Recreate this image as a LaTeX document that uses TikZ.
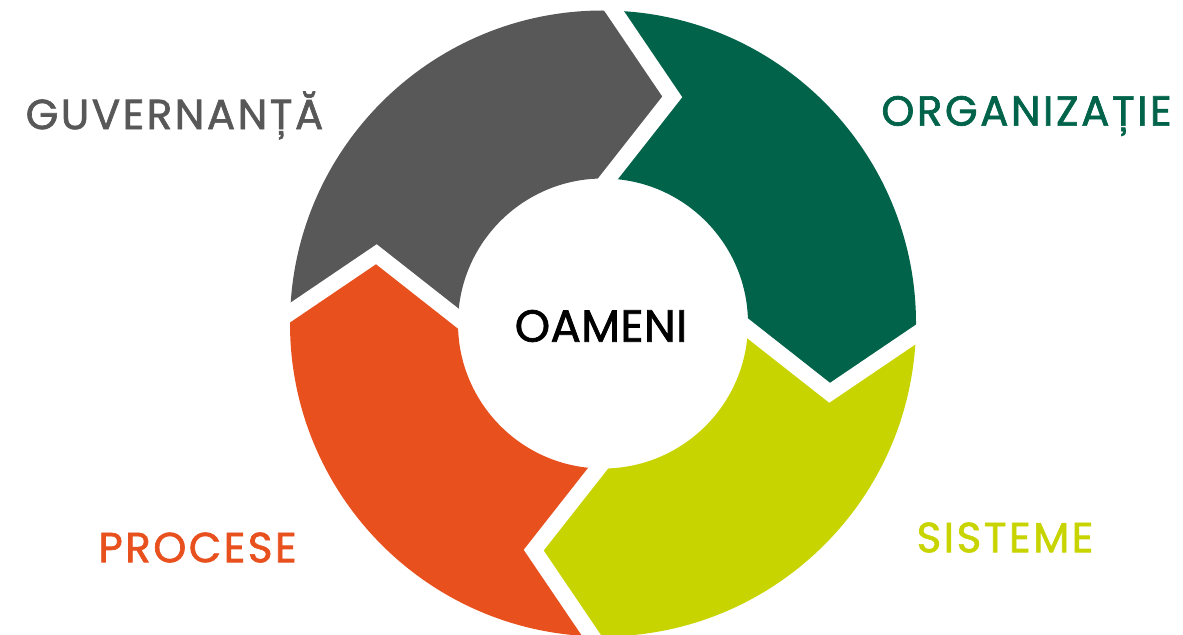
\documentclass[tikz,border=0pt]{standalone}
\usepackage{fontspec}
\setmainfont{Poppins}
\newfontfamily\diagfont{Poppins}[FakeBold=1.6,LetterSpace=6]
\newfontfamily\centrefont{Poppins}[FakeBold=1.6,LetterSpace=1]
\definecolor{guvgrey}{HTML}{585858}
\definecolor{orggreen}{HTML}{00634A}
\definecolor{sislime}{HTML}{C8D400}
\definecolor{procorange}{HTML}{E8501E}
\begin{document}
\begin{tikzpicture}[x=0.5pt,y=0.5pt,
	label/.style={font=\diagfont\fontsize{21}{24}\selectfont,inner sep=0pt},
	gap/.style={white,line width=8pt,line join=miter,line cap=rect}]
	\useasboundingbox (0,0) rectangle (1183,634);
	\begin{scope}[shift={(603,310.5)},rotate=-1]
		\fill[guvgrey] (179:313) arc[start angle=179,end angle=89,radius=313] -- (74:237) -- (89:145) arc[start angle=89,end angle=179,radius=145] -- (164:237) -- cycle;
		\fill[orggreen] (89:313) arc[start angle=89,end angle=-1,radius=313] -- (-16:237) -- (-1:145) arc[start angle=-1,end angle=89,radius=145] -- (74:237) -- cycle;
		\fill[sislime] (-1:313) arc[start angle=-1,end angle=-91,radius=313] -- (-106:237) -- (-91:145) arc[start angle=-91,end angle=-1,radius=145] -- (-16:237) -- cycle;
		\fill[procorange] (-91:313) arc[start angle=-91,end angle=-181,radius=313] -- (164:237) -- (179:145) arc[start angle=179,end angle=269,radius=145] -- (-106:237) -- cycle;
		\draw[gap] (89:313) -- (74:237) -- (89:145);
		\draw[gap] (-1:313) -- (-16:237) -- (-1:145);
		\draw[gap] (-91:313) -- (-106:237) -- (-91:145);
		\draw[gap] (179:313) -- (164:237) -- (179:145);
	\end{scope}
	\node (oameni) at (601,308) [inner sep=0pt,font=\centrefont\fontsize{22.5}{26}\selectfont,text=black] {OAMENI};
	\node (guvernanta) at (174.5,518.5) [label,text=guvgrey] {GUVERNANȚĂ};
	\node (organizatie) at (1026.5,518) [label,text=orggreen] {ORGANIZAȚIE};
	\node (sisteme) at (1005,96.5) [label,text=sislime] {SISTEME};
	\node (procese) at (197.5,86.5) [label,text=procorange] {PROCESE};
\end{tikzpicture}
\end{document}
